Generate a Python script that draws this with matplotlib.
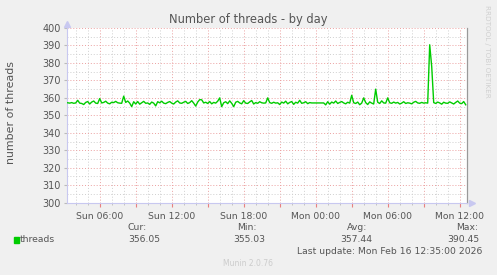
import datetime as dt
import matplotlib
matplotlib.use("Agg")
import matplotlib.pyplot as plt
import matplotlib.dates as mdates
from matplotlib.patches import Rectangle
from matplotlib.ticker import MultipleLocator, FuncFormatter

# threads, 10 minute samples from Sun 03:20 to Mon 12:30
threads = [
    357.2, 357.0, 357.3, 356.9, 357.1, 358.6, 357.0, 356.8, 356.2, 357.4,
    357.9, 356.5, 357.6, 358.2, 357.0, 356.8, 359.6, 357.1, 357.4, 358.1,
    357.0, 356.6, 357.5, 357.3, 358.0, 357.2, 357.0, 356.9, 361.0, 357.4,
    358.2, 357.0, 355.0, 357.8, 356.5, 357.9, 356.4, 357.2, 358.0, 356.9,
    357.1, 356.3, 357.6, 357.0, 355.4, 357.8, 357.2, 358.1, 357.0, 356.7,
    357.4, 357.9, 357.0, 356.5, 357.6, 358.3, 357.1, 356.9, 357.5, 358.0,
    356.8, 357.3, 358.4, 357.0, 355.3, 357.6, 359.0, 358.9, 357.1, 357.5,
    356.8, 357.9, 356.6, 357.4, 357.0, 358.1, 360.0, 355.0, 357.2, 357.8,
    356.7, 358.3, 356.9, 355.0, 357.5, 358.0, 357.1, 356.6, 358.4, 357.0,
    356.8, 357.7, 358.5, 356.5, 357.3, 356.9, 357.8, 357.2, 357.0, 357.1,
    360.0, 357.3, 356.9, 357.5, 357.0, 357.2, 356.2, 357.6, 357.0, 358.1,
    356.6, 357.4, 357.9, 356.3, 357.5, 357.0, 358.6, 356.9, 357.2, 357.8,
    356.7, 357.3, 357.1, 357.1, 357.1, 357.1, 357.1, 357.1, 357.1, 356.0,
    357.8, 356.4, 357.6, 357.0, 358.2, 356.8, 357.4, 357.9, 357.1, 356.6,
    357.5, 357.0, 361.5, 357.2, 356.8, 357.6, 356.1, 357.0, 360.0, 357.3,
    356.2, 357.7, 357.0, 356.5, 365.0, 357.5, 356.8, 358.3, 357.1, 357.0,
    360.0, 357.2, 356.9, 357.6, 357.0, 357.4, 356.5, 357.0, 357.8, 356.8,
    357.2, 357.0, 356.6, 357.5, 358.0, 357.1, 356.9, 357.4, 357.0, 357.2,
    357.0, 390.4, 378.0, 357.3, 356.8, 357.6, 357.1, 356.4, 357.5, 357.0,
    356.9, 357.7, 357.1, 356.5, 357.4, 358.2, 357.0, 356.7, 357.9, 356.05,
]
start = dt.datetime(2026, 2, 15, 3, 15)
end = dt.datetime(2026, 2, 16, 12, 35)
times = [start + dt.timedelta(minutes=5 + 10 * i) for i in range(len(threads))]

stat_names = ["Cur:", "Min:", "Avg:", "Max:"]
stat_values = ["356.05", "355.03", "357.44", "390.45"]

W, H = 497, 275
bg = "#f0f0f0"
txt = "#555555"
fs = 6.7

fig = plt.figure(figsize=(W / 100, H / 100), dpi=100, facecolor=bg)
ax = fig.add_axes([66.7 / W, 1 - 202.7 / H, 400 / W, 174.7 / H], facecolor="white")

ax.plot(times, threads, color="#00cc00", lw=1.0, zorder=3)
ax.set_xlim(start, end)
ax.set_ylim(300, 400)

# y grid
ax.yaxis.set_major_locator(MultipleLocator(10))
ax.yaxis.set_minor_locator(MultipleLocator(5))
# x grid: red every 3 h, gray every hour, labels every 6 h
ax.xaxis.set_major_locator(mdates.HourLocator(byhour=range(0, 24, 3)))
ax.xaxis.set_minor_locator(mdates.HourLocator())

def fmt(x, pos):
    d = mdates.num2date(x)
    if d.hour % 6:
        return ""
    return d.strftime("%a %H:%M")

ax.xaxis.set_major_formatter(FuncFormatter(fmt))

ax.grid(which="minor", color="#cfcfcf", ls=(0, (1, 2)), lw=0.7, zorder=1)
ax.grid(which="major", color="#eba0a0", ls=(0, (1, 2)), lw=0.7, zorder=2)

ax.tick_params(axis="x", which="major", length=3, color="#e88080", labelsize=fs,
               labelcolor=txt, pad=4)
ax.tick_params(axis="x", which="minor", length=1.5, color="#bbbbbb")
ax.tick_params(axis="y", which="major", length=2, color="#bbbbbb", labelsize=7,
               labelcolor=txt, pad=2)
ax.tick_params(axis="y", which="minor", length=0)

ax.spines["top"].set_visible(False)
ax.spines["left"].set_color("#c8c8f0")
ax.spines["bottom"].set_color("#c8c8f0")
ax.spines["right"].set_color("#999999")
ax.spines["left"].set_linewidth(0.8)
ax.spines["bottom"].set_linewidth(0.8)
ax.spines["right"].set_linewidth(0.9)

# axis arrows
ax.plot([0], [1.025], marker="^", ms=4, color="#c8c8f0", transform=ax.transAxes,
        clip_on=False)
ax.plot([1.012], [0], marker=">", ms=4, color="#c8c8f0", transform=ax.transAxes,
        clip_on=False)

fig.text(11 / W, 1 - 113 / H, "number of threads", ha="center", va="center",
         rotation=90, fontsize=7.9, color=txt)

fig.text(248 / W, 1 - 20 / H, "Number of threads - by day", ha="center", va="center",
         fontsize=8.3, color=txt)
fig.text(487 / W, 1 - 51 / H, "RRDTOOL / TOBI OETIKER", ha="center", va="center",
         rotation=270, fontsize=5.2, color="#d0d0d0")

# legend
fig.add_artist(Rectangle((14 / W, 1 - 242.7 / H), 5.3 / W, 5.3 / H,
                         transform=fig.transFigure, color="#00cc00"))
fig.text(20 / W, 1 - 239.5 / H, "threads", ha="left", va="center", fontsize=fs, color=txt)
label_x = [128, 237, 346.7, 455.7]
value_x = [128, 233, 340.7, 447]
for name, val, lx, vx in zip(stat_names, stat_values, label_x, value_x):
    fig.text(lx / W, 1 - 228 / H, name, ha="left", va="center", fontsize=fs, color=txt)
    fig.text(vx / W, 1 - 239.5 / H, val, ha="left", va="center", fontsize=fs, color=txt)
fig.text(482 / W, 1 - 251 / H, "Last update: Mon Feb 16 12:35:00 2026", ha="right",
         va="center", fontsize=fs, color=txt)
fig.text(248 / W, 1 - 263 / H, "Munin 2.0.76", ha="center", va="center", fontsize=5.5,
         color="#cccccc")

fig.savefig("out.png", dpi=100, facecolor=bg)
